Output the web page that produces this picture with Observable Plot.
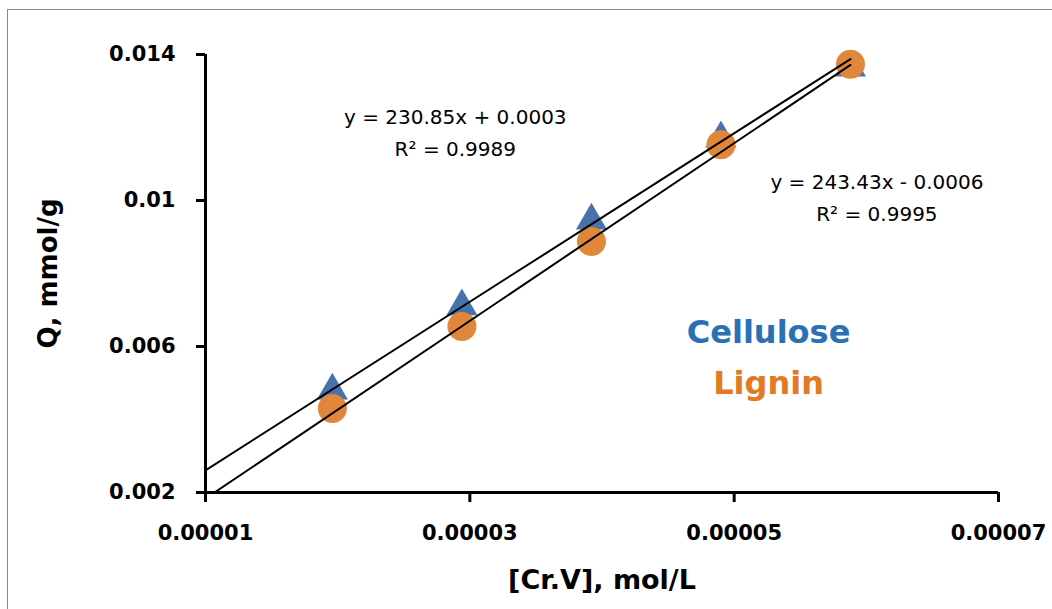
<!DOCTYPE html>
<html>
<head>
<meta charset="utf-8">
<script src="https://cdn.jsdelivr.net/npm/d3@7"></script>
<script src="https://cdn.jsdelivr.net/npm/@observablehq/plot@0.6"></script>
<style>
  html, body { margin: 0; padding: 0; background: #fff; }
  #wrap { position: relative; width: 1052px; height: 609px; overflow: hidden; }
  #border { position: absolute; left: 7px; top: 9px; width: 1060px; height: 620px; border: 1.5px solid #8a8a8a; box-sizing: border-box; pointer-events: none; }
</style>
</head>
<body>
<div id="wrap"><div id="border"></div></div>
<script>
// ---- data ----
const seriesNames = ["Cellulose", "Lignin"];
const concentration = [0.0000196, 0.0000294, 0.0000392, 0.000049, 0.0000588];
const celluloseQ = [0.00479, 0.0071, 0.00945, 0.0117, 0.01364];
const ligninQ = [0.0043, 0.00655, 0.00888, 0.01153, 0.01373];
const slopes = [230.85, 243.43];
const intercepts = [0.0003, -0.0006];
const equationLabels = ["y = 230.85x + 0.0003", "y = 243.43x - 0.0006"];
const r2Labels = ["R² = 0.9989", "R² = 0.9995"];
const trendXRange = [0.00001, 0.0000588];
const xTicks = [0.00001, 0.00003, 0.00005, 0.00007];
const xTickLabels = ["0.00001", "0.00003", "0.00005", "0.00007"];
const yTicks = [0.002, 0.006, 0.01, 0.014];
const yTickLabels = ["0.002", "0.006", "0.01", "0.014"];
const xTitle = "[Cr.V], mol/L";
const yTitle = "Q, mmol/g";

// annotation anchor positions (data coordinates)
const eqPos = [{x: 0.0000289, y: 0.01193}, {x: 0.0000608, y: 0.01016}];
const legendPos = [{x: 0.0000526, y: 0.00638}, {x: 0.0000526, y: 0.00499}];

const colors = {Cellulose: "#4673ab", Lignin: "#e0873b"};
const textColors = {Cellulose: "#2a70b5", Lignin: "#e27a22"};

// ---- build tables ----
const cellulose = concentration.map((x, i) => ({x, y: celluloseQ[i]}));
const lignin = concentration.map((x, i) => ({x, y: ligninQ[i]}));
const trend = seriesNames.flatMap((s, k) =>
  trendXRange.map(x => ({series: s, x, y: slopes[k] * x + intercepts[k]})));
const eqText = seriesNames.map((s, k) => ({x: eqPos[k].x, y: eqPos[k].y, label: equationLabels[k] + "\n" + r2Labels[k]}));
const legendText = seriesNames.map((s, k) => ({x: legendPos[k].x, y: legendPos[k].y, label: s, color: textColors[s]}));

const chart = Plot.plot({
  width: 1052,
  height: 609,
  marginLeft: 205,
  marginRight: 54,
  marginTop: 54,
  marginBottom: 117,
  style: {fontFamily: "DejaVu Sans", background: "transparent", overflow: "visible", color: "#000"},
  x: {domain: [0.00001, 0.00007]},
  y: {domain: [0.002, 0.014]},
  marks: [
    Plot.axisY({ticks: yTicks, tickFormat: d => yTickLabels[yTicks.indexOf(d)], tickSize: 9, tickPadding: 21,
      fontSize: 21, fontWeight: "bold", strokeWidth: 3, label: null}),
    Plot.axisX({ticks: xTicks, tickFormat: d => xTickLabels[xTicks.indexOf(d)], tickSize: 10, tickPadding: 23,
      fontSize: 21, fontWeight: "bold", strokeWidth: 3, label: null}),
    Plot.ruleX([0.00001], {stroke: "#000", strokeWidth: 3}),
    Plot.ruleY([0.002], {stroke: "#000", strokeWidth: 3}),
    Plot.dot(cellulose, {x: "x", y: "y", symbol: "triangle", r: 11.5, fill: colors.Cellulose, stroke: "none"}),
    Plot.dot(lignin, {x: "x", y: "y", symbol: "circle", r: 14.5, fill: colors.Lignin, stroke: "none"}),
    Plot.line(trend, {x: "x", y: "y", z: "series", stroke: "#000", strokeWidth: 2, clip: true}),
    Plot.text(eqText, {x: "x", y: "y", text: "label", fontSize: 20, lineHeight: 1.6, fill: "#000", textAnchor: "middle"}),
    Plot.text(legendText, {x: "x", y: "y", text: "label", fill: "color", fontSize: 32, fontWeight: "bold",
      stroke: "rgba(0,0,0,0.06)", strokeWidth: 1}),
    Plot.text([yTitle], {frameAnchor: "left", dx: -157, rotate: -90, textAnchor: "middle", lineAnchor: "middle",
      fontSize: 26, fontWeight: "bold", fill: "#000"}),
    Plot.text([xTitle], {frameAnchor: "bottom", dy: 88, textAnchor: "middle", lineAnchor: "middle",
      fontSize: 27, fontWeight: "bold", fill: "#000"})
  ]
});
document.getElementById("wrap").prepend(chart);
</script>
</body>
</html>
